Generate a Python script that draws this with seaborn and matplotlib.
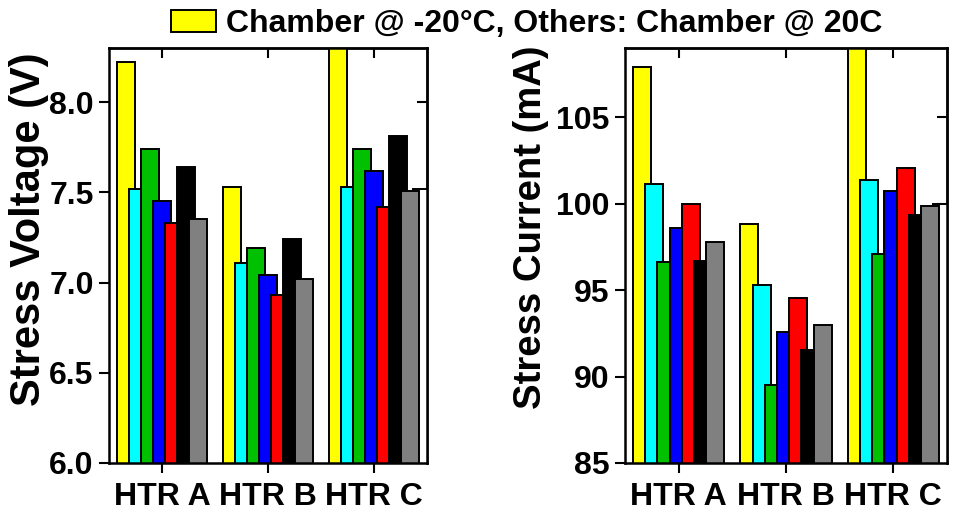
import matplotlib
matplotlib.use("Agg")
import matplotlib.pyplot as plt
from matplotlib.patches import Patch
import seaborn as sns

# Heater groups on the x axis
heaters = ["HTR A", "HTR B", "HTR C"]

# Bar fill colours, one per run (yellow = cold chamber run)
run_colors = ["#FFFF00", "#00FFFF", "#00C000", "#0000FF",
              "#FF0000", "#000000", "#808080", "#FFFFFF"]

# Stress voltage (V) per run, per heater
volt_yellow = [8.22, 7.53, 8.40]
volt_cyan = [7.52, 7.11, 7.53]
volt_green = [7.74, 7.19, 7.74]
volt_blue = [7.45, 7.04, 7.62]
volt_red = [7.33, 6.93, 7.42]
volt_black = [7.64, 7.24, 7.81]
volt_gray = [7.35, 7.02, 7.51]
volt_white = [None, None, 7.52]

# Stress current (mA) per run, per heater
curr_yellow = [107.9, 98.8, 109.6]
curr_cyan = [101.15, 95.3, 101.35]
curr_green = [96.6, 89.5, 97.06]
curr_blue = [98.6, 92.55, 100.73]
curr_red = [100.0, 94.54, 102.08]
curr_black = [96.7, 91.54, 99.35]
curr_gray = [97.8, 93.0, 99.88]
curr_white = [None, None, 100.0]

volt_yticks = [6.0, 6.5, 7.0, 7.5, 8.0]
curr_yticks = [85, 90, 95, 100, 105]

legend_text = "Chamber @ -20\u00b0C, Others: Chamber @ 20C"

STEP = 0.114      # offset between neighbouring bars of a group
BAR_W = 0.168     # individual bar width (bars overlap)
DRAW_ORDER = [0, 1, 2, 3, 4, 5, 7, 6]

sns.set_theme(style="ticks")
plt.rcParams["font.family"] = ["Liberation Sans", "DejaVu Sans"]
plt.rcParams["font.weight"] = "bold"
plt.rcParams["axes.labelweight"] = "bold"

fig = plt.figure(figsize=(9.61, 5.17), dpi=100)
ax_v = fig.add_axes([109 / 961, 54 / 517, 318 / 961, 415 / 517])
ax_c = fig.add_axes([625 / 961, 54 / 517, 322 / 961, 415 / 517])


def draw_panel(ax, runs, ylim, yticks, ylabel, label_size, fmt, label_xy):
    for i in DRAW_ORDER:
        vals = runs[i]
        xs = [g + (i - 3) * STEP for g, v in enumerate(vals) if v is not None]
        ys = [v for v in vals if v is not None]
        sns.barplot(x=xs, y=ys, native_scale=True, width=BAR_W,
                    color=run_colors[i], saturation=1, edgecolor="black",
                    linewidth=1.4, errorbar=None, ax=ax)
    ax.set_xlim(-0.5, 2.5)
    ax.set_ylim(*ylim)
    ax.set_xticks(range(len(heaters)))
    ax.set_xticklabels(heaters)
    ax.set_yticks(yticks)
    ax.set_yticklabels([fmt.format(t) for t in yticks])
    ax.tick_params(axis="y", direction="out", length=7, width=1.5,
                   labelsize=23, pad=4, color="black", labelcolor="black")
    ax.tick_params(axis="x", direction="out", length=7, width=1.5,
                   labelsize=23, pad=7, color="black", labelcolor="black")
    for sp in ax.spines.values():
        sp.set_linewidth(1.8)
        sp.set_color("black")
    ax.set_xlabel("")
    ax.set_ylabel(ylabel, fontsize=label_size, color="black")
    ax.yaxis.set_label_coords(*label_xy)

    # inward ticks on the right and top frame edges
    right = ax.secondary_yaxis("right")
    right.set_yticks(yticks)
    right.tick_params(direction="in", length=7, width=1.5, labelright=False,
                      color="black")
    right.spines["right"].set_linewidth(1.8)
    top = ax.secondary_xaxis("top")
    top.set_xticks(range(len(heaters)))
    top.tick_params(direction="in", length=7, width=1.5, labeltop=False,
                    color="black")
    top.spines["top"].set_linewidth(1.8)


draw_panel(ax_v,
           [volt_yellow, volt_cyan, volt_green, volt_blue,
            volt_red, volt_black, volt_gray, volt_white],
           (6.0, 8.3), volt_yticks, "Stress Voltage (V)", 30, "{:.1f}",
           (-0.19, 0.564))
draw_panel(ax_c,
           [curr_yellow, curr_cyan, curr_green, curr_blue,
            curr_red, curr_black, curr_gray, curr_white],
           (85, 109), curr_yticks, "Stress Current (mA)", 27.5, "{:d}",
           (-0.236, 0.567))

handle = Patch(facecolor=run_colors[0], edgecolor="black", linewidth=1.4)
fig.legend(handles=[handle], labels=[legend_text], loc="center",
           bbox_to_anchor=(0.548, 0.953), frameon=False, fontsize=23,
           handlelength=1.4, handleheight=0.65, handletextpad=0.3,
           borderpad=0, borderaxespad=0, labelcolor="black")

fig.savefig("out.png", dpi=100)
